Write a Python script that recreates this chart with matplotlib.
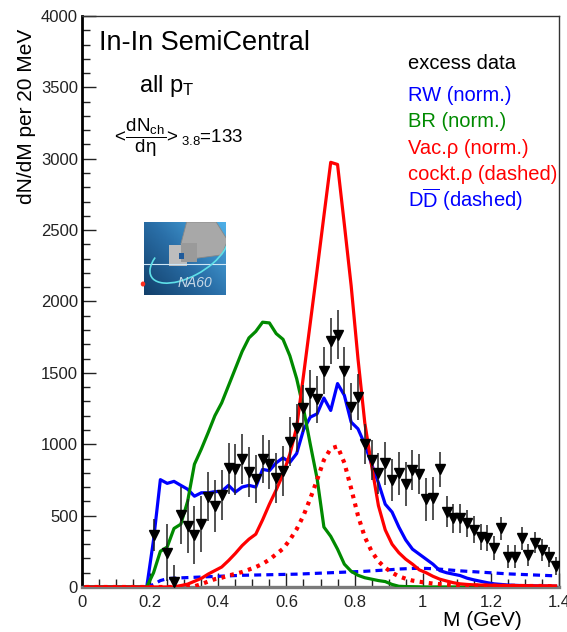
import numpy as np
import matplotlib
matplotlib.use("Agg")
import matplotlib.pyplot as plt
from matplotlib.ticker import MultipleLocator, FormatStrFormatter
from matplotlib.patches import Polygon, Rectangle, Arc, Circle

plt.rcParams['font.family'] = ['Liberation Sans', 'DejaVu Sans']
plt.rcParams['mathtext.fontset'] = 'custom'
plt.rcParams['mathtext.rm'] = 'Liberation Sans'
plt.rcParams['mathtext.it'] = 'Liberation Sans:italic'
plt.rcParams['mathtext.bf'] = 'Liberation Sans:bold'
plt.rcParams['mathtext.sf'] = 'Liberation Sans'

# ---- excess data (20 MeV bins) ----
mass_data = [0.21, 0.25, 0.27, 0.29, 0.31, 0.33, 0.35, 0.37, 0.39, 0.41,
             0.43, 0.45, 0.47, 0.49, 0.51, 0.53, 0.55, 0.57, 0.59, 0.61,
             0.63, 0.65, 0.67, 0.69, 0.71, 0.73, 0.75, 0.77, 0.79, 0.81,
             0.83, 0.85, 0.87, 0.89, 0.91, 0.93, 0.95, 0.97, 0.99, 1.01,
             1.03, 1.05, 1.07, 1.09, 1.11, 1.13, 1.15, 1.17, 1.19, 1.21,
             1.23, 1.25, 1.27, 1.29, 1.31, 1.33, 1.35, 1.37, 1.39]
excess = [364, 240, 37, 504, 427, 364, 441, 633, 567, 644,
          831, 824, 897, 808, 757, 897, 859, 761, 812, 1018,
          1114, 1252, 1361, 1315, 1514, 1725, 1768, 1514, 1263, 1331,
          1004, 890, 796, 867, 750, 796, 720, 820, 792, 614,
          621, 824, 528, 481, 481, 446, 400, 348, 341, 271,
          411, 212, 212, 341, 224, 310, 259, 212, 147]
excess_err = [110, 200, 120, 200, 190, 200, 195, 170, 180, 175,
              180, 180, 175, 175, 170, 165, 170, 175, 175, 170,
              170, 165, 160, 165, 165, 160, 170, 165, 165, 160,
              140, 140, 145, 150, 150, 150, 155, 140, 140, 150,
              150, 125, 110, 100, 100, 95, 95, 90, 90, 85,
              80, 80, 80, 80, 75, 75, 75, 70, 65]

# ---- model curves, evaluated at the same 20 MeV bin centres ----
mass_model = np.round(np.arange(0.01, 1.40, 0.02), 2)

rw_norm = [0, 0, 0, 0, 0, 0, 0, 0, 0, 0,
           330, 752, 726, 740, 712, 685, 636, 660, 660, 668,
           670, 712, 665, 700, 712, 700, 824, 815, 870, 905,
           873, 935, 1100, 1190, 1213, 1324, 1237, 1425, 1343, 1155,
           1108, 1000, 860, 730, 580, 525, 420, 330, 265, 230,
           195, 160, 115, 100, 90, 80, 62, 50, 40, 30,
           22, 18, 14, 12, 10, 9, 8, 7, 6, 5]
br_norm = [0, 0, 0, 0, 0, 0, 0, 0, 0, 0,
           100, 250, 280, 410, 440, 600, 860, 965, 1080, 1200,
           1290, 1410, 1530, 1650, 1745, 1790, 1855, 1850, 1775, 1735,
           1620, 1460, 1250, 1000, 760, 420, 355, 265, 160, 110,
           82, 65, 55, 45, 38, 18, 5, 3, 2, 1,
           0, 0, 0, 0, 0, 0, 0, 0, 0, 0,
           0, 0, 0, 0, 0, 0, 0, 0, 0, 0]
vac_rho = [0, 0, 0, 0, 0, 0, 0, 0, 0, 0, 0, 0, 0, 0,
           10, 20, 40, 60, 90, 115, 140, 185, 235, 290,
           335, 370, 470, 580, 680, 790, 930, 1120, 1480, 1850,
           2220, 2600, 2975, 2960, 2540, 2110, 1600, 1150, 850, 570,
           400, 300, 240, 195, 160, 120, 100, 75, 55, 42,
           30, 22, 18, 15, 14, 13, 12, 11, 10, 10,
           9, 9, 8, 8, 8, 8]
cockt_rho = [0, 0, 0, 0, 0, 0, 0, 0, 0, 0, 0, 0, 0, 0, 0, 0,
             5, 20, 38, 55, 65, 80, 92, 105, 122, 140,
             162, 192, 230, 268, 330, 405, 500, 620, 750, 890,
             970, 985, 870, 690, 500, 350, 250, 180, 135, 100,
             75, 58, 45, 37, 30, 24, 20, 17, 14, 12,
             11, 10, 10, 9, 9, 8, 8, 8, 7, 7,
             7, 7, 6, 6]
dd_bar = [0, 0, 0, 0, 0, 0, 0, 0, 0, 0,
          18, 45, 58, 62, 64, 66, 68, 70, 72, 74,
          76, 78, 80, 82, 83, 84, 85, 86, 87, 88,
          89, 90, 92, 94, 96, 98, 100, 102, 104, 106,
          108, 110, 113, 116, 119, 122, 126, 128, 130, 131,
          130, 128, 125, 121, 117, 113, 110, 107, 104, 101,
          98, 95, 92, 90, 88, 86, 84, 82, 80, 78]

x_ticks = [0, 0.2, 0.4, 0.6, 0.8, 1.0, 1.2, 1.4]
y_ticks = [0, 500, 1000, 1500, 2000, 2500, 3000, 3500, 4000]

BLUE = '#0000ff'
GREEN = '#008a00'
RED = '#ff0000'

W, H = 567, 632
fig = plt.figure(figsize=(W / 100, H / 100), dpi=100)
L, R, T, B = 82, 559, 16, 587
ax = fig.add_axes([L / W, 1 - B / H, (R - L) / W, (B - T) / H])


def fx(px):
    return px / W


def fy(py):
    return 1 - py / H


lw = 2.3
dd_start = 9
ax.plot(mass_model[dd_start:], dd_bar[dd_start:], color=BLUE, lw=2.3,
        linestyle=(0, (2.2, 1.6)), zorder=2)
ax.plot(mass_model, rw_norm, color=BLUE, lw=lw, zorder=3)
ax.plot(mass_model, br_norm, color=GREEN, lw=lw, zorder=3)
ax.plot(mass_model, cockt_rho, color=RED, lw=3.0,
        linestyle=(0, (0.9, 1.3)), zorder=4)
ax.plot(mass_model, vac_rho, color=RED, lw=lw, zorder=4)

ax.errorbar(mass_data, excess, yerr=excess_err, fmt='v', color='black',
            ms=7.5, ecolor='#222222', elinewidth=1.1, capsize=0, zorder=6)

ax.set_xlim(0, 1.4)
ax.set_ylim(0, 4000)
ax.set_xticks(x_ticks)
ax.set_yticks(y_ticks)
ax.xaxis.set_major_formatter(FormatStrFormatter('%g'))
ax.xaxis.set_minor_locator(MultipleLocator(0.05))
ax.yaxis.set_minor_locator(MultipleLocator(100))
ax.tick_params(which='both', direction='in', top=False, right=False,
               labelsize=12, colors='#222222')
ax.tick_params(which='major', length=10, width=1.0)
ax.tick_params(which='minor', length=5.5, width=1.0)
ax.tick_params(axis='y', pad=3)
ax.tick_params(axis='x', pad=6)

ax.spines['left'].set_linewidth(2.0)
ax.spines['left'].set_color('black')
ax.spines['bottom'].set_linewidth(2.4)
ax.spines['bottom'].set_color('#7a7a7a')
for s in ('top', 'right'):
    ax.spines[s].set_linewidth(1.0)
    ax.spines[s].set_color('#333333')

# axis titles
fig.text(fx(27), fy(116), 'dN/dM per 20 MeV', rotation=90, ha='center',
         va='center', fontsize=15)
fig.text(fx(482), fy(621), 'M (GeV)', ha='center', va='center', fontsize=15)

# annotations
fig.text(fx(99), fy(50), 'In-In SemiCentral', ha='left', va='baseline',
         fontsize=19.5)
fig.text(fx(139), fy(92), r'all p$_\mathrm{T}$', ha='left', va='baseline',
         fontsize=17)
fig.text(fx(111), fy(142),
         r'${<}\!\dfrac{\mathrm{dN}_{\mathrm{ch}}}{\mathrm{dη}}\!{>}_{3.8}$=133',
         ha='left', va='baseline', fontsize=13.5)

legend_rows = [('excess data', 'black', 69),
               ('RW (norm.)', BLUE, 101),
               ('BR (norm.)', GREEN, 127),
               ('Vac.ρ (norm.)', RED, 154),
               ('cockt.ρ (dashed)', RED, 180),
               (r'D$\overline{\mathrm{D}}$ (dashed)', BLUE, 207)]
for txt, col, yb in legend_rows:
    fig.text(fx(408), fy(yb), txt, color=col, ha='left', va='baseline',
             fontsize=14.5)

# NA60 logo
lax = fig.add_axes([fx(144), fy(295), 82 / W, 73 / H])
lax.set_xlim(0, 1)
lax.set_ylim(0, 1)
lax.axis('off')
gx, gy = np.meshgrid(np.linspace(0, 1, 60), np.linspace(0, 1, 60))
grad = 0.55 * gx + 0.45 * gy
cmap = matplotlib.colors.LinearSegmentedColormap.from_list(
    'logo', ['#123f6a', '#2a6fa8', '#4fb0e8'])
lax.imshow(grad, extent=(0, 1, 0, 1), origin='lower', cmap=cmap,
           aspect='auto', zorder=0)
lax.add_patch(Polygon([[0.52, 1.0], [0.88, 1.0], [1.02, 0.75], [0.95, 0.55],
                       [0.62, 0.5], [0.45, 0.7]], closed=True,
                      facecolor='#a8a8a8', edgecolor='#888888', lw=0.6,
                      zorder=1))
lax.add_patch(Rectangle((0.3, 0.4), 0.22, 0.28, facecolor='#bdbdbd',
                        edgecolor='none', zorder=2))
lax.add_patch(Rectangle((0.45, 0.45), 0.2, 0.26, facecolor='#9a9a9a',
                        edgecolor='none', zorder=2))
lax.add_patch(Rectangle((0.43, 0.5), 0.06, 0.07, facecolor='#1f5a9a',
                        edgecolor='none', zorder=3))
lax.plot([0, 1], [0.43, 0.43], color='#cfe6f5', lw=0.8, zorder=3)
lax.add_patch(Arc((0.55, 0.55), 1.1, 0.55, angle=35, theta1=150,
                  theta2=350, color='#5fe0e8', lw=1.2, zorder=4))
lax.text(0.62, 0.17, 'NA60', color='#c7d8e6', fontsize=10, style='italic',
         ha='center', va='center', zorder=5)
fig.add_artist(Circle((fx(143), fy(284)), 0.004, transform=fig.transFigure,
                      facecolor='#ff3020', edgecolor='none'))

fig.savefig('out.png', dpi=100)
